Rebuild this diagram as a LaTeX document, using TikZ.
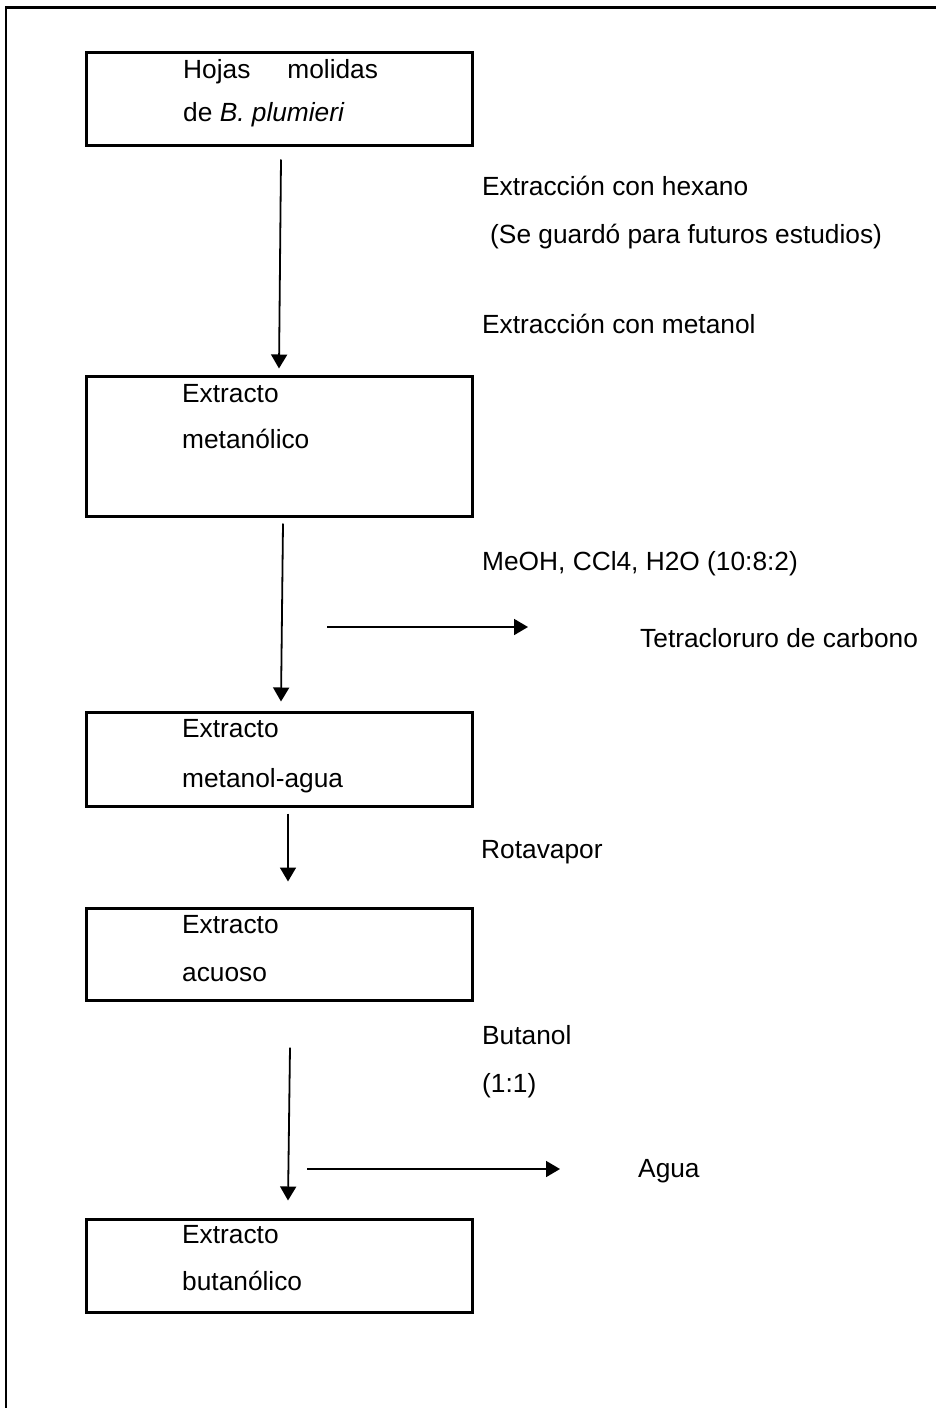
\documentclass[tikz,border=0pt]{standalone}
\usepackage{fontspec}
\setmainfont{Liberation Sans}
\usetikzlibrary{arrows.meta,calc}
\begin{document}
\begin{tikzpicture}[x=1pt,y=-1pt,
  box/.style={draw, line width=3pt, inner sep=0pt, minimum width=385.5pt},
  txt/.style={anchor=base west, inner sep=0pt, font=\fontsize{26.3}{31}\selectfont},
  arr/.style={line width=1.8pt, -{Triangle[length=14pt,width=16pt]}}]
\useasboundingbox (0,0) rectangle (936,1408);
% outer frame
\draw[line width=1.7pt] (6,1408) -- (6,7.5);
\draw[line width=2.4pt] (5.2,7.5) -- (936,7.5);
% boxes
\node[box, minimum height=93pt]  (b1) at (279.25,98.5) {};
\node[box, minimum height=140pt] (b2) at (279.25,446) {};
\node[box, minimum height=94pt]  (b3) at (279.25,759) {};
\node[box, minimum height=92pt]  (b4) at (279.25,954) {};
\node[box, minimum height=93pt]  (b5) at (279.25,1265.5) {};
% box texts
\node[txt] (t1a) at (183,78) {Hojas\hspace{37pt}molidas};
\node[txt] (t1b) at (183,121) {de \textit{B. plumieri}};
\node[txt] (t2a) at (182,402) {Extracto};
\node[txt] (t2b) at (182,448) {metanólico};
\node[txt] (t3a) at (182,737) {Extracto};
\node[txt] (t3b) at (182,787) {metanol-agua};
\node[txt] (t4a) at (182,933) {Extracto};
\node[txt] (t4b) at (182,981) {acuoso};
\node[txt] (t5a) at (182,1243) {Extracto};
\node[txt] (t5b) at (182,1290) {butanólico};
% side labels
\node[txt] (l1) at (482,195) {Extracción con hexano};
\node[txt] (l2) at (490,243) {(Se guardó para futuros estudios)};
\node[txt] (l3) at (482,333) {Extracción con metanol};
\node[txt] (l4) at (482,570) {MeOH, CCl4, H2O (10:8:2)};
\node[txt] (l5) at (640,647) {Tetracloruro de carbono};
\node[txt] (l6) at (481,858) {Rotavapor};
\node[txt] (l7) at (482,1044) {Butanol};
\node[txt] (l8) at (482,1092) {(1:1)};
\node[txt] (l9) at (638,1177) {Agua};
% vertical arrows
\draw[arr] ($(b1.south)+(1.75,13)$) -- ($(b2.north)+(-0.25,-6)$);
\draw[arr] ($(b2.south)+(3.75,6)$) -- ($(b3.north)+(1.75,-9)$);
\draw[arr] ($(b3.south)+(8.75,6)$) -- ($(b4.north)+(8.75,-25)$);
\draw[arr] ($(b4.south)+(10.75,46)$) -- ($(b5.north)+(8.75,-17)$);
% side arrows
\coordinate (h1s) at (327,627);
\coordinate (h1e) at (528,627);
\coordinate (h2s) at (307,1169);
\coordinate (h2e) at (560,1169);
\draw[arr] (h1s) -- (h1e);
\draw[arr] (h2s) -- (h2e);
\end{tikzpicture}
\end{document}
